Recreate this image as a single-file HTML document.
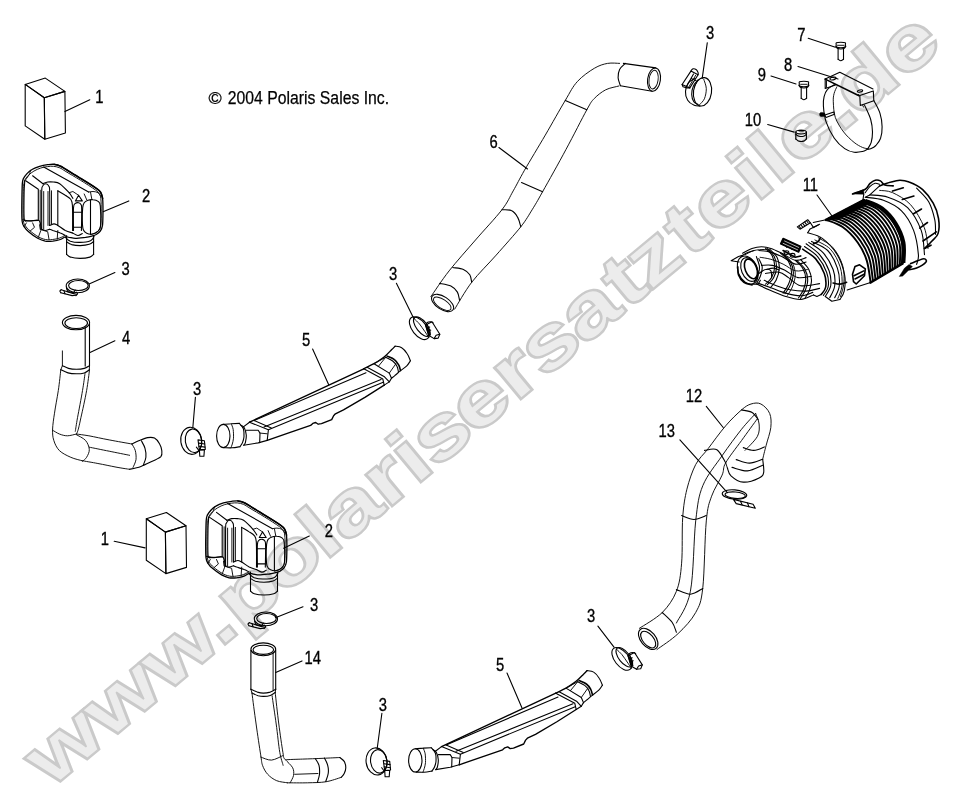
<!DOCTYPE html>
<html><head><meta charset="utf-8">
<style>
html,body{margin:0;padding:0;background:#fff;}
body{width:962px;height:795px;overflow:hidden;font-family:"Liberation Sans",sans-serif;}
svg{display:block;position:absolute;left:0;top:0;}
.wm{font-family:"Liberation Sans",sans-serif;font-weight:bold;font-size:96.2px;fill:#ececec;stroke:#cacaca;stroke-width:4.4px;stroke-linejoin:miter;paint-order:stroke fill;}
.wm2{font-family:"Liberation Sans",sans-serif;font-weight:bold;font-size:96.2px;fill:none;stroke:#cacaca;stroke-width:1.6px;stroke-linejoin:miter;}
.lb{font-family:"Liberation Sans",sans-serif;font-size:17.6px;fill:#000;stroke:#000;stroke-width:0.35px;}
.cp{font-family:"Liberation Sans",sans-serif;font-size:18.3px;fill:#000;stroke:#000;stroke-width:0.25px;}
.l{fill:none;stroke:#000;stroke-width:1.1;stroke-linecap:round;stroke-linejoin:round;}
.t{fill:none;stroke:#0a0a0a;stroke-width:0.95;stroke-linecap:round;stroke-linejoin:round;}
.w{fill:none;stroke:#000;stroke-width:1.1;stroke-linejoin:round;}
.w2{fill:none;stroke:#000;stroke-width:1.3;stroke-linejoin:round;}
.m{fill:none;stroke:#000;stroke-width:1.35;stroke-linecap:round;stroke-linejoin:round;}
.k{fill:none;stroke:#000;stroke-width:1.6;stroke-linecap:round;stroke-linejoin:round;}
.r4{fill:none;stroke:#000;stroke-width:4.2;stroke-linecap:butt;}
.r2{fill:none;stroke:#000;stroke-width:1.9;stroke-linecap:round;}
.r3{fill:none;stroke:#000;stroke-width:2.6;stroke-linecap:round;}
.wl{fill:none;stroke:#fff;stroke-width:0.7;}
.b{fill:#000;stroke:#000;stroke-width:0.5;stroke-linejoin:round;}
</style></head>
<body>
<svg width="962" height="795" viewBox="0 0 962 795">
<g id="wm"><text id="wmt" class="wm" transform="translate(44.5,793.9) rotate(-39.7) scale(1,0.786)" x="8.0 82.8 157.6 228.9 255.6 309.4 365.1 391.9 445.4 482.8 508.5 559.0 612.9 649.5 701.4 757.0 787.3 838.1 872.1 925.6 952.8 980.1 1034.6 1057.3 1116.0">www.polarisersatzteile.de</text><text class="wm2" transform="translate(44.5,793.9) rotate(-39.7) scale(1,0.786)" x="8.0 82.8 157.6 228.9 255.6 309.4 365.1 391.9 445.4 482.8 508.5 559.0 612.9 649.5 701.4 757.0 787.3 838.1 872.1 925.6 952.8 980.1 1034.6 1057.3 1116.0">www.polarisersatzteile.de</text></g>
<g id="parts">
<path class="w" d="M25.2 84.4 L45.3 78.1 L64.9 91.4 L44.3 97.7 Z"/>
<path class="w" d="M25.2 84.4 L44.3 97.7 L44.8 139.2 L25.2 125.9 Z"/>
<path class="w" d="M44.3 97.7 L64.9 91.4 L65.4 133 L44.8 139.2 Z"/>
<path class="l" d="M66.6 235.5 L66.6 254.4"/>
<path class="l" d="M93.6 235.5 L93.6 254.4"/>
<path class="l" d="M66.6 254.4 C67.2 254.8 68.1 256.5 70.4 257.1 C72.6 257.8 76.8 258.4 80.1 258.4 C83.3 258.4 87.6 257.8 89.9 257.1 C92.1 256.5 93 254.8 93.6 254.4"/>
<path class="l" d="M65.3 237.4 C66.2 238 67.9 240.3 70.4 241.2 C72.8 242 76.7 242.5 80.1 242.4 C83.4 242.4 88.2 241.8 90.5 240.8 C92.8 239.8 93.4 237.2 94 236.5"/>
<path class="l" d="M66.6 241.8 C67.4 242.3 69.4 243.9 71.6 244.6 C73.9 245.2 77.1 245.6 80.1 245.6 C83 245.5 87 245 89.2 244.3 C91.5 243.6 92.9 242 93.6 241.5"/>
<path class="w2" d="M22.3 183.9 C22.6 179.4 22.8 180 23.6 178.3 C24.4 176.6 25.6 175.1 27 173.6 C28.4 172.1 29.9 170.7 32 169.5 C34.1 168.2 36.9 167.1 39.6 166.3 C42.2 165.5 45.3 165 47.7 164.7 C50.1 164.4 51.9 164.1 54 164.3 C56.1 164.5 58.2 165.1 60.3 166.1 C62.4 167 63.2 167.8 66.6 169.8 C70 171.9 75.4 175.1 80.4 178.3 C85.5 181.4 93.4 186.3 96.8 188.7 C100.2 191.1 99.9 191.1 100.8 192.7 C101.8 194.4 102.2 195.3 102.6 198.4 C102.9 201.5 103 207.1 103 211.6 C102.9 216.1 102.9 222.2 102.5 225.4 C102 228.7 101.4 229.6 100.3 231.1 C99.3 232.6 97.6 233.7 96.2 234.5 C94.7 235.3 93.5 235.6 91.8 236.1 C90 236.6 88.2 237 85.5 237.4 C82.7 237.7 78.1 238.3 75.4 238.3 C72.7 238.3 70.8 237.6 69.1 237.4 C67.4 237.1 66.8 236.4 65.3 236.8 C63.9 237.1 62.4 238.8 60.3 239.5 C58.2 240.3 55.3 240.9 52.8 241.2 C50.3 241.4 47.7 241.6 45.2 241.2 C42.7 240.7 40.4 239.8 37.7 238.3 C34.9 236.7 31.1 233.9 28.9 232 C26.6 230.1 25.2 228.5 24.1 226.7 C23 224.9 22.5 224.6 22.1 221 C21.7 217.5 21.8 211.5 21.8 205.3 C21.9 199.1 22 188.4 22.3 183.9 Z"/>
<path class="k" d="M54 164.3 C55.1 164.6 58.2 165.1 60.3 166.1 C62.4 167 63.2 167.8 66.6 169.8 C70 171.9 75.4 175.1 80.4 178.3 C85.5 181.4 93.4 186.3 96.8 188.7 C100.2 191.1 99.9 191.1 100.8 192.7 C101.8 194.4 102.3 197.5 102.6 198.4"/>
<path class="t" d="M23.8 184.6 C24 183.7 24.3 181.1 25.1 179.5 C25.9 177.9 27.4 176.3 28.9 174.9 C30.3 173.5 31.9 172.3 33.9 171.1 C35.9 169.9 38.5 168.7 40.8 168 C43.1 167.2 45.6 166.8 47.7 166.6 C49.8 166.3 51.4 166.1 53.4 166.3 C55.4 166.5 57.6 166.9 59.7 167.8 C61.8 168.7 62.5 169.5 66 171.6 C69.4 173.7 75.5 177.1 80.4 180.2 C85.4 183.2 92.4 187.8 95.5 190 C98.6 192.2 98.2 192 99.1 193.4 C99.9 194.8 100.5 195.4 100.8 198.4 C101.2 201.4 101.2 207.2 101.2 211.6 C101.2 216 101.2 221.7 100.8 224.8 C100.4 227.9 99.8 228.8 98.8 230.2 C97.8 231.6 96.3 232.5 94.9 233.2 C93.5 234 91.2 234.3 90.5 234.5"/>
<path class="t" d="M23.3 185.2 C23.3 188.5 23.1 199.4 23.1 205.3 C23.1 211.2 23 217 23.3 220.4 C23.7 223.8 24.3 224 25.3 225.7 C26.4 227.4 27.7 228.9 29.9 230.7 C32 232.6 35.7 235.3 38.3 236.8 C40.9 238.2 43.1 239.1 45.5 239.5 C47.8 240 50.1 239.8 52.5 239.5 C54.9 239.3 57.7 238.7 59.7 238 C61.7 237.3 63.9 235.9 64.7 235.5"/>
<path class="l" d="M43.7 166.9 L88.6 192.1"/>
<path class="l" d="M32.6 175.8 L43 183.7"/>
<path class="t" d="M30.8 170.1 C30.4 170.9 29.9 173.3 28.9 175.1 C27.9 176.9 25.5 179.8 24.8 180.8"/>
<path class="l" d="M43 183.7 C43.8 183.4 46 182.3 47.7 182 C49.5 181.8 51.4 181.8 53.4 182 C55.4 182.3 57.1 181.9 59.7 183.7 C62.3 185.5 66.9 190.3 69.1 192.7 C71.3 195.2 72.3 197.5 72.9 198.4"/>
<path class="t" d="M88.6 192.1 C89.4 192 91.4 191.4 93 191.5 C94.6 191.6 96.8 191.9 98.1 192.7 C99.4 193.6 100.4 195.9 100.8 196.5"/>
<path class="t" d="M84.2 194 L86.7 199.7"/>
<path class="t" d="M90.5 192.1 L91.8 199"/>
<path class="t" d="M69.1 192.7 L72.9 191.5 L78.6 195.3"/>
<path class="l" d="M78.6 195.3 L75.4 200.9 L82.3 200.9 L78.6 195.3"/>
<path class="l" d="M24.8 180.8 C24.7 182.8 24.2 186.6 24.1 192.7 C24 198.9 23.8 213.2 24.1 217.9 C24.4 222.6 25.5 220.5 25.7 221"/>
<path class="l" d="M25.7 180.8 L38.3 189.2 L38.3 220.4 L25.7 221"/>
<path class="t" d="M40.2 190.2 L40.2 229.2"/>
<path class="l" d="M41.7 229.2 C41.7 223.1 41.6 199.9 41.7 192.7 C41.8 185.6 41.8 188 42.5 186.4 C43.1 184.9 44.8 183.7 45.8 183.7 C46.9 183.7 48.3 184.9 49 186.4 C49.6 188 49.6 186.2 49.7 192.7 C49.9 199.2 49.7 220 49.7 225.4"/>
<path class="t" d="M43.7 229.2 L43.7 191.5"/>
<path class="t" d="M48 225.4 L48 191.5"/>
<path class="l" d="M41.7 229.2 C42.3 229.4 43.9 230.5 45.2 230.5 C46.6 230.5 49 229.4 49.7 229.2"/>
<path class="l" d="M57.8 190.8 L57.8 225.4"/>
<path class="t" d="M51.5 190.8 L51.5 224.2"/>
<path class="l" d="M57.8 190.8 C59.1 191.6 63.2 193.9 65.3 195.3 C67.4 196.6 69.2 197.3 70.4 199 C71.6 200.7 72 200.1 72.4 205.3 C72.8 210.6 72.6 226.3 72.6 230.5"/>
<path class="l" d="M49.7 225.4 C50.5 225.2 52.7 223.9 54 223.9 C55.4 223.9 55.9 224.4 57.8 225.4 C59.7 226.5 62.9 229.2 65.3 230.5 C67.8 231.7 71.4 232.6 72.6 233"/>
<path class="l" d="M73.5 230.5 C73.5 226.7 73.2 212.3 73.5 207.8 C73.8 203.3 74.6 204.3 75.4 203.4 C76.2 202.6 77.6 202.6 78.6 202.8 C79.5 203 80.5 203.6 81.1 204.7 C81.6 205.7 81.6 204.8 81.7 209.1 C81.8 213.4 81.5 226.9 81.4 230.5"/>
<path class="l" d="M73.5 212.2 L81.4 212.2"/>
<path class="l" d="M73.5 227.3 L81.4 227.3"/>
<path class="l" d="M82.7 207.8 C83 204.9 83.3 204.1 84.2 202.8 C85.1 201.5 86.5 200.8 88 200.3 C89.5 199.8 91.3 199.5 93 199.7 C94.7 199.8 96.8 200.2 98.1 201.3 C99.3 202.3 99.9 201.9 100.3 205.9 C100.7 210 100.9 221.2 100.6 225.4 C100.2 229.6 99.4 229.7 98.1 231.1 C96.7 232.5 94.3 233.6 92.4 234 C90.5 234.4 88.3 234 86.7 233.2 C85.2 232.5 83.9 231.6 83.2 229.5 C82.5 227.3 82.4 224 82.3 220.4 C82.2 216.8 82.4 210.8 82.7 207.8 Z"/>
<path class="l" d="M90.5 200 L90.5 233.7"/>
<path class="l" d="M22.6 219.8 C23.8 220 27.4 220.9 30.1 221 C32.9 221.1 37 219 38.9 220.4 C40.8 221.8 41 227.7 41.4 229.2"/>
<path class="t" d="M26.4 222.9 L24.1 226.7"/>
<path class="t" d="M32.6 222.9 L34.5 227.3 L30.1 231.1"/>
<path class="t" d="M39.6 224.8 L40.8 230.5 L38.3 237.4"/>
<path class="t" d="M41.4 229.8 L47.7 231.7 L49 239.3"/>
<path class="l" d="M49.7 229.2 C50.3 229.4 51 229.8 52.8 230.5 C54.5 231.1 58.2 232.1 60.3 233 C62.4 233.8 64.5 235.1 65.3 235.5"/>
<path class="t" d="M57.8 230.5 L57.2 239.3"/>
<path class="l" d="M72.6 233 C73.5 233.4 76.3 235.4 77.9 235.5 C79.5 235.6 81.6 233.9 82.3 233.6"/>
<ellipse class="l" cx="77.8" cy="285.9" rx="11.6" ry="6.9"/>
<ellipse class="l" cx="78.4" cy="285.5" rx="9.8" ry="5"/>
<path class="l" d="M61.2 289.7 L72.8 293.4 L76.5 294.3"/>
<path class="l" d="M61.2 289.7 C61 289.9 60 290.4 59.9 290.9 C59.9 291.5 60.7 292.5 60.8 292.8"/>
<path class="l" d="M60.8 292.8 L72.1 295.6 L75.9 295.3"/>
<path class="l" d="M76.5 292.2 C76.7 292.5 77.7 293.3 77.5 293.8 C77.4 294.4 76.2 295.3 75.9 295.6"/>
<path class="l" d="M66.5 288.4 L67.7 291.6 L73.4 292.8 L75.3 290.1"/>
<path class="l" d="M64 290.9 L65 293.8"/>
<ellipse class="l" cx="76" cy="322.6" rx="13.6" ry="7.2"/>
<ellipse class="l" cx="76.2" cy="323.1" rx="11.3" ry="5.4"/>
<path class="t" d="M62.4 350.9 L62.4 365.7"/>
<path class="l" d="M89.5 323.8 L89.5 365.7"/>
<path class="l" d="M85.2 327.6 L85.2 366.1"/>
<path class="l" d="M62.4 365.7 C63.4 366.1 66.1 367.8 68.5 368.4 C70.8 369 73.8 369.3 76.4 369.3 C79.1 369.3 82.1 369 84.3 368.4 C86.5 367.8 88.7 366.1 89.5 365.7"/>
<path class="l" d="M60.8 369.7 C62 370.3 65.4 372.2 68 372.9 C70.6 373.6 73.7 373.8 76.4 373.8 C79.1 373.8 82.1 373.6 84.3 372.9 C86.5 372.2 88.7 370.3 89.5 369.7"/>
<path class="t" d="M62.4 365.7 L60.8 369.7"/>
<path class="t" d="M89.5 365.7 L89.3 369.7"/>
<path class="t" d="M60.8 369.7 C60.4 373.2 59.4 383.3 58.3 390.6 C57.2 397.8 55.4 406.8 54.5 413.2 C53.5 419.6 52.8 424.5 52.6 429 C52.5 433.6 52.6 436.8 53.8 440.4 C54.9 444 56.6 447.7 59.4 450.6 C62.3 453.4 67 455.6 70.8 457.3 C74.5 459 80.2 460.2 82.1 460.7"/>
<path class="t" d="M89.5 369.7 C89.1 373.2 88 382.6 86.6 390.6 C85.2 398.6 82.4 411.1 80.9 417.7 C79.5 424.3 78.8 427.5 78 430.2 C77.2 432.9 76.7 433.4 76.4 434"/>
<path class="t" d="M85 373.6 C84.6 376.4 83.8 383.2 82.5 390.6 C81.3 397.9 78.8 410.9 77.5 417.7 C76.3 424.5 75.7 429 75.3 431.3"/>
<path class="t" d="M76.4 434 C78.5 434.3 83.4 434.9 88.9 435.8 C94.3 436.8 102.1 438.6 109.2 439.9 C116.4 441.3 128.1 443.3 131.9 444"/>
<path class="t" d="M82.1 460.7 C84.7 461.2 92.3 462.4 97.9 463.5 C103.6 464.5 110.7 466.1 116 467.1 C121.3 468.1 127.4 469 129.6 469.3"/>
<path class="t" d="M89.3 447.2 C92.6 447.8 102.5 449.9 109.2 451.2 C116 452.6 126.2 454.6 129.6 455.3"/>
<path class="t" d="M52.6 430.2 C53.8 430.8 57 433.1 59.4 434 C61.9 435 64.5 435.8 67.4 435.8 C70.2 435.8 74.9 434.3 76.4 434"/>
<path class="t" d="M76.4 434.7 C77.9 435.7 83.3 437.9 85.5 440.4 C87.6 442.8 89.1 446.6 89.3 449.4 C89.5 452.3 87.7 455.4 86.6 457.3 C85.5 459.3 83.2 460.6 82.5 461.2"/>
<path class="l" d="M131.9 444 C133 443.5 136 441.9 138.7 440.8 C141.3 439.8 145.1 438.1 147.7 437.6 C150.4 437.2 152.6 437.1 154.5 438.1 C156.5 439.1 158.3 441.7 159.5 443.8 C160.7 445.8 161.5 448.4 161.8 450.6 C162 452.7 162.4 454.9 160.9 456.7 C159.3 458.4 155.6 459.6 152.3 461.2 C148.9 462.8 144.7 465 140.9 466.4 C137.2 467.8 131.5 468.9 129.6 469.3"/>
<path class="t" d="M131.9 444 C132.4 445.1 134.6 448 135.3 450.6 C136 453.2 136.3 456.8 136 459.6 C135.6 462.4 133.5 466.2 133 467.5"/>
<path class="l" d="M141.4 440.8 C142 442.1 144.3 445.5 145 448.3 C145.8 451 146.2 454.5 145.9 457.3 C145.6 460.2 143.7 463.9 143.2 465.3"/>
<ellipse class="l" cx="191.2" cy="440.8" rx="10.4" ry="13.6" transform="rotate(-8 191.2 440.8)"/>
<ellipse class="l" cx="193.5" cy="440.8" rx="8.2" ry="11.8" transform="rotate(-8 193.5 440.8)"/>
<path class="w" d="M198 439.9 L204.4 440.8 L205.3 449.4 L199.4 449.9 Z"/>
<path class="w" d="M199.4 449.9 L199.8 456.2 L203.9 456.2 L204.4 449.9 Z"/>
<path class="l" d="M198.7 443.1 L204.8 444"/>
<path class="l" d="M198.9 446.2 L205 447.1"/>
<path class="l" d="M196.4 447.1 L199.4 451.2"/>
<path class="w" d="M146.3 518.8 L166.4 512.5 L186 525.8 L165.4 532.1 Z"/>
<path class="w" d="M146.3 518.8 L165.4 532.1 L165.9 573.6 L146.3 560.3 Z"/>
<path class="w" d="M165.4 532.1 L186 525.8 L186.5 567.4 L165.9 573.6 Z"/>
<path class="l" d="M250.5 572.1 L250.5 591"/>
<path class="l" d="M277.5 572.1 L277.5 591"/>
<path class="l" d="M250.5 591 C251.1 591.4 252 593.1 254.3 593.7 C256.5 594.4 260.7 595 264 595 C267.2 595 271.5 594.4 273.8 593.7 C276 593.1 276.9 591.4 277.5 591"/>
<path class="l" d="M249.2 574 C250.1 574.6 251.8 576.9 254.3 577.8 C256.7 578.6 260.6 579.1 264 579 C267.3 579 272.1 578.4 274.4 577.4 C276.7 576.4 277.3 573.8 277.9 573.1"/>
<path class="l" d="M250.5 578.4 C251.3 578.9 253.3 580.5 255.5 581.2 C257.8 581.8 261 582.2 264 582.2 C266.9 582.1 270.9 581.6 273.1 580.9 C275.4 580.2 276.8 578.6 277.5 578.1"/>
<path class="w2" d="M206.2 520.5 C206.5 516 206.7 516.6 207.5 514.9 C208.3 513.2 209.5 511.7 210.9 510.2 C212.3 508.7 213.8 507.3 215.9 506.1 C218 504.8 220.8 503.7 223.5 502.9 C226.1 502.1 229.2 501.6 231.6 501.3 C234 501 235.8 500.7 237.9 500.9 C240 501.1 242.1 501.7 244.2 502.7 C246.3 503.6 247.1 504.4 250.5 506.4 C253.9 508.5 259.3 511.7 264.3 514.9 C269.4 518 277.3 522.9 280.7 525.3 C284.1 527.7 283.8 527.7 284.7 529.3 C285.7 531 286.1 531.9 286.5 535 C286.8 538.1 286.9 543.7 286.9 548.2 C286.8 552.7 286.8 558.8 286.4 562 C285.9 565.3 285.3 566.2 284.2 567.7 C283.2 569.2 281.5 570.3 280.1 571.1 C278.6 571.9 277.4 572.2 275.7 572.7 C273.9 573.2 272.1 573.6 269.4 574 C266.6 574.3 262 574.9 259.3 574.9 C256.6 574.9 254.7 574.2 253 574 C251.3 573.7 250.7 573 249.2 573.4 C247.8 573.7 246.3 575.4 244.2 576.1 C242.1 576.9 239.2 577.5 236.7 577.8 C234.2 578 231.6 578.2 229.1 577.8 C226.6 577.3 224.3 576.4 221.6 574.9 C218.8 573.3 215 570.5 212.8 568.6 C210.5 566.7 209.1 565.1 208 563.3 C206.9 561.5 206.4 561.2 206 557.6 C205.6 554.1 205.7 548.1 205.7 541.9 C205.8 535.7 205.9 525 206.2 520.5 Z"/>
<path class="k" d="M237.9 500.9 C239 501.2 242.1 501.7 244.2 502.7 C246.3 503.6 247.1 504.4 250.5 506.4 C253.9 508.5 259.3 511.7 264.3 514.9 C269.4 518 277.3 522.9 280.7 525.3 C284.1 527.7 283.8 527.7 284.7 529.3 C285.7 531 286.2 534.1 286.5 535"/>
<path class="t" d="M207.7 521.2 C207.9 520.3 208.2 517.7 209 516.1 C209.8 514.5 211.3 512.9 212.8 511.5 C214.2 510.1 215.8 508.9 217.8 507.7 C219.8 506.5 222.4 505.3 224.7 504.6 C227 503.8 229.5 503.4 231.6 503.2 C233.7 502.9 235.3 502.7 237.3 502.9 C239.3 503.1 241.5 503.5 243.6 504.4 C245.7 505.3 246.4 506.1 249.9 508.2 C253.3 510.3 259.4 513.7 264.3 516.8 C269.3 519.8 276.3 524.4 279.4 526.6 C282.5 528.8 282.1 528.6 283 530 C283.8 531.4 284.4 532 284.7 535 C285.1 538 285.1 543.8 285.1 548.2 C285.1 552.6 285.1 558.3 284.7 561.4 C284.3 564.5 283.7 565.4 282.7 566.8 C281.7 568.2 280.2 569.1 278.8 569.8 C277.4 570.6 275.1 570.9 274.4 571.1"/>
<path class="t" d="M207.2 521.8 C207.2 525.1 207 536 207 541.9 C207 547.8 206.9 553.6 207.2 557 C207.6 560.4 208.2 560.6 209.2 562.3 C210.3 564 211.6 565.5 213.8 567.3 C215.9 569.2 219.6 571.9 222.2 573.4 C224.8 574.8 227 575.7 229.4 576.1 C231.7 576.6 234 576.4 236.4 576.1 C238.8 575.9 241.6 575.3 243.6 574.6 C245.6 573.9 247.8 572.5 248.6 572.1"/>
<path class="l" d="M227.6 503.5 L272.5 528.7"/>
<path class="l" d="M216.5 512.4 L226.9 520.3"/>
<path class="t" d="M214.7 506.7 C214.3 507.5 213.8 509.9 212.8 511.7 C211.8 513.5 209.4 516.4 208.7 517.4"/>
<path class="l" d="M226.9 520.3 C227.7 520 229.9 518.9 231.6 518.6 C233.4 518.4 235.3 518.4 237.3 518.6 C239.3 518.9 241 518.5 243.6 520.3 C246.2 522.1 250.8 526.9 253 529.3 C255.2 531.8 256.2 534.1 256.8 535"/>
<path class="t" d="M272.5 528.7 C273.3 528.6 275.3 528 276.9 528.1 C278.5 528.2 280.7 528.5 282 529.3 C283.3 530.2 284.3 532.5 284.7 533.1"/>
<path class="t" d="M268.1 530.6 L270.6 536.3"/>
<path class="t" d="M274.4 528.7 L275.7 535.6"/>
<path class="t" d="M253 529.3 L256.8 528.1 L262.5 531.9"/>
<path class="l" d="M262.5 531.9 L259.3 537.5 L266.2 537.5 L262.5 531.9"/>
<path class="l" d="M208.7 517.4 C208.6 519.4 208.1 523.2 208 529.3 C207.9 535.5 207.7 549.8 208 554.5 C208.3 559.2 209.4 557.1 209.6 557.6"/>
<path class="l" d="M209.6 517.4 L222.2 525.8 L222.2 557 L209.6 557.6"/>
<path class="t" d="M224.1 526.8 L224.1 565.8"/>
<path class="l" d="M225.6 565.8 C225.6 559.7 225.5 536.5 225.6 529.3 C225.7 522.2 225.7 524.6 226.4 523 C227 521.5 228.7 520.3 229.7 520.3 C230.8 520.3 232.2 521.5 232.9 523 C233.5 524.6 233.5 522.8 233.6 529.3 C233.8 535.8 233.6 556.6 233.6 562"/>
<path class="t" d="M227.6 565.8 L227.6 528.1"/>
<path class="t" d="M231.9 562 L231.9 528.1"/>
<path class="l" d="M225.6 565.8 C226.2 566 227.8 567.1 229.1 567.1 C230.5 567.1 232.9 566 233.6 565.8"/>
<path class="l" d="M241.7 527.4 L241.7 562"/>
<path class="t" d="M235.4 527.4 L235.4 560.8"/>
<path class="l" d="M241.7 527.4 C243 528.2 247.1 530.5 249.2 531.9 C251.3 533.2 253.1 533.9 254.3 535.6 C255.5 537.3 255.9 536.7 256.3 541.9 C256.7 547.2 256.5 562.9 256.5 567.1"/>
<path class="l" d="M233.6 562 C234.4 561.8 236.6 560.5 237.9 560.5 C239.3 560.5 239.8 561 241.7 562 C243.6 563.1 246.8 565.8 249.2 567.1 C251.7 568.3 255.3 569.2 256.5 569.6"/>
<path class="l" d="M257.4 567.1 C257.4 563.3 257.1 548.9 257.4 544.4 C257.7 539.9 258.5 540.9 259.3 540 C260.1 539.2 261.5 539.2 262.5 539.4 C263.4 539.6 264.4 540.2 265 541.3 C265.5 542.3 265.5 541.4 265.6 545.7 C265.7 550 265.4 563.5 265.3 567.1"/>
<path class="l" d="M257.4 548.8 L265.3 548.8"/>
<path class="l" d="M257.4 563.9 L265.3 563.9"/>
<path class="l" d="M266.6 544.4 C266.9 541.5 267.2 540.7 268.1 539.4 C269 538.1 270.4 537.4 271.9 536.9 C273.4 536.4 275.2 536.1 276.9 536.3 C278.6 536.4 280.7 536.8 282 537.9 C283.2 538.9 283.8 538.5 284.2 542.5 C284.6 546.6 284.8 557.8 284.5 562 C284.1 566.2 283.3 566.3 282 567.7 C280.6 569.1 278.2 570.2 276.3 570.6 C274.4 571 272.2 570.6 270.6 569.8 C269.1 569.1 267.8 568.2 267.1 566.1 C266.4 563.9 266.3 560.6 266.2 557 C266.1 553.4 266.3 547.4 266.6 544.4 Z"/>
<path class="l" d="M274.4 536.6 L274.4 570.3"/>
<path class="l" d="M206.5 556.4 C207.7 556.6 211.3 557.5 214 557.6 C216.8 557.7 220.9 555.6 222.8 557 C224.7 558.4 224.9 564.3 225.3 565.8"/>
<path class="t" d="M210.3 559.5 L208 563.3"/>
<path class="t" d="M216.5 559.5 L218.4 563.9 L214 567.7"/>
<path class="t" d="M223.5 561.4 L224.7 567.1 L222.2 574"/>
<path class="t" d="M225.3 566.4 L231.6 568.3 L232.9 575.9"/>
<path class="l" d="M233.6 565.8 C234.2 566 234.9 566.4 236.7 567.1 C238.4 567.7 242.1 568.7 244.2 569.6 C246.3 570.4 248.4 571.7 249.2 572.1"/>
<path class="t" d="M241.7 567.1 L241.1 575.9"/>
<path class="l" d="M256.5 569.6 C257.4 570 260.2 572 261.8 572.1 C263.4 572.2 265.5 570.5 266.2 570.2"/>
<ellipse class="l" cx="265.9" cy="618.9" rx="11.6" ry="6.9"/>
<ellipse class="l" cx="266.5" cy="618.5" rx="9.8" ry="5"/>
<path class="l" d="M249.3 622.7 L260.9 626.4 L264.6 627.3"/>
<path class="l" d="M249.3 622.7 C249.1 622.9 248.1 623.4 248 623.9 C248 624.5 248.8 625.5 248.9 625.8"/>
<path class="l" d="M248.9 625.8 L260.2 628.6 L264 628.3"/>
<path class="l" d="M264.6 625.2 C264.8 625.5 265.8 626.3 265.6 626.8 C265.5 627.4 264.3 628.3 264 628.6"/>
<path class="l" d="M254.6 621.4 L255.8 624.6 L261.5 625.8 L263.4 623.1"/>
<path class="l" d="M252.1 623.9 L253.1 626.8"/>
<ellipse class="l" cx="376.5" cy="761.4" rx="10.4" ry="13.6" transform="rotate(-8 376.5 761.4)"/>
<ellipse class="l" cx="378.8" cy="761.4" rx="8.2" ry="11.8" transform="rotate(-8 378.8 761.4)"/>
<path class="w" d="M383.3 760.5 L389.7 761.4 L390.6 770 L384.7 770.5 Z"/>
<path class="w" d="M384.7 770.5 L385.1 776.8 L389.2 776.8 L389.7 770.5 Z"/>
<path class="l" d="M384 763.7 L390.1 764.6"/>
<path class="l" d="M384.2 766.8 L390.3 767.7"/>
<path class="l" d="M381.7 767.7 L384.7 771.8"/>
<ellipse class="l" cx="223.3" cy="436" rx="6.7" ry="11.6"/>
<path class="l" d="M223.3 424.4 C224.6 424.3 228.6 423.8 231.3 423.7 C234 423.5 238 423.4 239.3 423.4"/>
<path class="l" d="M224 447.7 C225.3 447.7 229.4 448 232 447.8 C234.7 447.7 238.7 446.9 240 446.7"/>
<path class="l" d="M239.3 423.4 C240 424.3 242.6 426.5 243.4 428.8 C244.1 431 244.1 434.5 244 436.8 C243.8 439.1 243.2 440.9 242.5 442.6 C241.8 444.2 240.4 446 240 446.7"/>
<path class="t" d="M231.3 423.8 C231.6 424.8 232.8 427.1 233.2 429.5 C233.5 431.9 233.6 435.8 233.5 438.2 C233.3 440.6 232.7 442.4 232.3 444 C231.9 445.6 231.1 447.2 230.9 447.8"/>
<path class="l" d="M240.8 425.1 C241.4 425.6 243.5 426.3 244.4 428 C245.3 429.7 246.1 432.9 246.3 435.3 C246.5 437.7 245.8 440.9 245.4 442.6 C245 444.2 244 444.8 243.7 445.2"/>
<path class="l" d="M243.4 426.9 L249.5 422.2"/>
<path class="l" d="M243.7 445.2 L258.2 442.9 L267.2 440.4"/>
<path class="l" d="M246.3 430.2 L258.2 430.2 L260 433.1 L259.7 442.6"/>
<path class="t" d="M260 433.1 L267.2 433.8"/>
<path class="l" d="M249.5 422.2 L268.4 429.8 L267.2 440.4"/>
<path class="l" d="M254.1 420.5 L271.3 428"/>
<path class="m" d="M249.5 422.2 L363.8 368.8"/>
<path class="l" d="M254.1 420.5 L366 372.7"/>
<path class="l" d="M264 426.9 L381 379.4"/>
<path class="l" d="M268.4 429.8 L383.2 382.3"/>
<path class="m" d="M267.2 440.4 L290.2 432.4 L310.6 425.4 L312.8 423.4 L315.7 422.5 L318.2 424.2 L321.5 423.7 L331.7 419.6 L333.6 415.7 L335.4 413.8 L343.5 409.9 L365.3 397.1 L384.2 385.1"/>
<path class="m" d="M363.8 368.8 C365.5 367.9 371.1 365.3 374 363.7 C376.9 362 379.3 360.5 381.3 359 C383.4 357.5 384.7 356.5 386.4 354.9 C388.1 353.4 390 351.3 391.5 349.8 C393 348.4 394.5 346.8 395.1 346.2"/>
<path class="l" d="M395.1 346.2 C396.2 346.4 399.7 346.4 401.7 347.7 C403.7 348.9 405.8 351.6 407.2 353.8 C408.7 355.9 409.9 359.6 410.4 360.8"/>
<path class="l" d="M410.4 360.8 C409.8 361.6 408.5 364.1 406.8 365.8 C405.1 367.5 402.2 369.4 400.2 370.9 C398.3 372.5 396.6 374.1 395.1 375.3 C393.7 376.5 392.1 377.7 391.5 378.2"/>
<path class="k" d="M387.1 356.1 C388.3 356.7 392.5 358.1 394.4 359.6 C396.4 361.1 397.8 363.3 398.8 365.1 C399.8 367 400.2 369.7 400.5 370.6"/>
<path class="l" d="M385.7 357.3 C386.8 357.9 390.8 359.5 392.7 361 C394.6 362.5 396.1 364.4 397 366.3 C398 368.1 398.2 371.1 398.5 372.1"/>
<path class="l" d="M391.5 378.2 L389.3 381.9 L384.2 385.1"/>
<path class="l" d="M363.8 368.8 L382.8 378.9 L384.2 385.1"/>
<path class="l" d="M367.1 367.3 L384.5 376.8 L389.3 381.9"/>
<path class="l" d="M374 363.7 L389.3 373.1 L391.5 378.2"/>
<path class="t" d="M374 363.7 L385.7 357.3"/>
<path class="t" d="M389.3 373.1 L395.9 363.7"/>
<path class="t" d="M378.4 366.3 L385.7 357.3"/>
<ellipse class="l" cx="415.3" cy="760.4" rx="6.7" ry="11.6"/>
<path class="l" d="M415.3 748.8 C416.6 748.7 420.6 748.2 423.3 748.1 C426 747.9 430 747.8 431.3 747.8"/>
<path class="l" d="M416 772.1 C417.3 772.1 421.4 772.4 424 772.2 C426.7 772.1 430.7 771.3 432 771.1"/>
<path class="l" d="M431.3 747.8 C432 748.7 434.6 750.9 435.4 753.2 C436.1 755.4 436.1 758.9 436 761.2 C435.8 763.5 435.2 765.3 434.5 767 C433.8 768.6 432.4 770.4 432 771.1"/>
<path class="t" d="M423.3 748.2 C423.6 749.2 424.8 751.5 425.2 753.9 C425.5 756.3 425.6 760.2 425.5 762.6 C425.3 765 424.7 766.8 424.3 768.4 C423.9 770 423.1 771.6 422.9 772.2"/>
<path class="l" d="M432.8 749.5 C433.4 750 435.5 750.7 436.4 752.4 C437.3 754.1 438.1 757.3 438.3 759.7 C438.5 762.1 437.8 765.3 437.4 767 C437 768.6 436 769.2 435.7 769.6"/>
<path class="l" d="M435.4 751.3 L441.5 746.6"/>
<path class="l" d="M435.7 769.6 L450.2 767.3 L459.2 764.8"/>
<path class="l" d="M438.3 754.6 L450.2 754.6 L452 757.5 L451.7 767"/>
<path class="t" d="M452 757.5 L459.2 758.2"/>
<path class="l" d="M441.5 746.6 L460.4 754.2 L459.2 764.8"/>
<path class="l" d="M446.1 744.9 L463.3 752.4"/>
<path class="m" d="M441.5 746.6 L555.8 693.2"/>
<path class="l" d="M446.1 744.9 L558 697.1"/>
<path class="l" d="M456 751.3 L573 703.8"/>
<path class="l" d="M460.4 754.2 L575.2 706.7"/>
<path class="m" d="M459.2 764.8 L482.2 756.8 L502.6 749.8 L504.8 747.8 L507.7 746.9 L510.2 748.6 L513.5 748.1 L523.7 744 L525.6 740.1 L527.4 738.2 L535.5 734.3 L557.3 721.5 L576.2 709.5"/>
<path class="m" d="M555.8 693.2 C557.5 692.3 563.1 689.7 566 688.1 C568.9 686.4 571.3 684.9 573.3 683.4 C575.4 681.9 576.7 680.9 578.4 679.3 C580.1 677.8 582 675.7 583.5 674.2 C585 672.8 586.5 671.2 587.1 670.6"/>
<path class="l" d="M587.1 670.6 C588.2 670.8 591.7 670.8 593.7 672.1 C595.7 673.3 597.8 676 599.2 678.2 C600.7 680.3 601.9 684 602.4 685.2"/>
<path class="l" d="M602.4 685.2 C601.8 686 600.5 688.5 598.8 690.2 C597.1 691.9 594.2 693.8 592.2 695.3 C590.3 696.9 588.6 698.5 587.1 699.7 C585.7 700.9 584.1 702.1 583.5 702.6"/>
<path class="k" d="M579.1 680.5 C580.3 681.1 584.5 682.5 586.4 684 C588.4 685.5 589.8 687.7 590.8 689.5 C591.8 691.4 592.2 694.1 592.5 695"/>
<path class="l" d="M577.7 681.7 C578.8 682.3 582.8 683.9 584.7 685.4 C586.6 686.9 588.1 688.8 589 690.7 C590 692.5 590.2 695.5 590.5 696.5"/>
<path class="l" d="M583.5 702.6 L581.3 706.3 L576.2 709.5"/>
<path class="l" d="M555.8 693.2 L574.8 703.3 L576.2 709.5"/>
<path class="l" d="M559.1 691.7 L576.5 701.2 L581.3 706.3"/>
<path class="l" d="M566 688.1 L581.3 697.5 L583.5 702.6"/>
<path class="t" d="M566 688.1 L577.7 681.7"/>
<path class="t" d="M581.3 697.5 L587.9 688.1"/>
<path class="t" d="M570.4 690.7 L577.7 681.7"/>
<ellipse class="l" cx="419.3" cy="328.2" rx="13.3" ry="7.1" transform="rotate(52 419.3 328.2)"/>
<ellipse class="l" cx="421.8" cy="326.6" rx="11.6" ry="5.4" transform="rotate(52 421.8 326.6)"/>
<path class="t" d="M414.3 318.8 C415.2 319.7 417.8 322 419.5 324 C421.2 326.1 423.1 329.1 424.7 331.3 C426.3 333.6 428.2 336.5 428.9 337.6"/>
<path class="w" d="M425.7 325.1 L432 321.8 L439.8 334.2 L438.2 338.1 L434.1 338.6 L428.9 335.5 Z"/>
<path class="k" d="M425.7 325.1 L428.9 335.5"/>
<path class="l" d="M427.3 324.6 L430.4 335"/>
<path class="l" d="M427 328.2 L429.7 327"/>
<path class="l" d="M427.8 331.3 L430.7 330.1"/>
<path class="l" d="M434.1 338.6 L436.1 335.3 L439.8 334.2"/>
<path class="l" d="M425.7 325.1 C426 324.6 426.4 323 427.3 322.5 C428.2 321.9 430 321.7 430.9 321.8 C431.9 321.8 432.8 322.8 433.2 323"/>
<ellipse class="l" cx="621.8" cy="658.9" rx="13.3" ry="7.1" transform="rotate(52 621.8 658.9)"/>
<ellipse class="l" cx="624.3" cy="657.3" rx="11.6" ry="5.4" transform="rotate(52 624.3 657.3)"/>
<path class="t" d="M616.8 649.5 C617.7 650.4 620.3 652.7 622 654.7 C623.7 656.8 625.6 659.8 627.2 662 C628.8 664.3 630.7 667.2 631.4 668.3"/>
<path class="w" d="M628.2 655.8 L634.5 652.5 L642.3 664.9 L640.7 668.8 L636.6 669.3 L631.4 666.2 Z"/>
<path class="k" d="M628.2 655.8 L631.4 666.2"/>
<path class="l" d="M629.8 655.3 L632.9 665.7"/>
<path class="l" d="M629.5 658.9 L632.2 657.7"/>
<path class="l" d="M630.3 662 L633.2 660.8"/>
<path class="l" d="M636.6 669.3 L638.6 666 L642.3 664.9"/>
<path class="l" d="M628.2 655.8 C628.5 655.3 628.9 653.7 629.8 653.2 C630.7 652.6 632.5 652.4 633.4 652.5 C634.4 652.5 635.3 653.5 635.7 653.7"/>
<ellipse class="l" cx="654" cy="79.6" rx="6.4" ry="11.7" transform="rotate(8 654 79.6)"/>
<ellipse class="t" cx="653.6" cy="79.6" rx="4.5" ry="9.4" transform="rotate(8 653.6 79.6)"/>
<path class="l" d="M623.4 63.4 L655.8 67.9"/>
<path class="l" d="M620.4 85.7 L652.1 91.3"/>
<path class="l" d="M625.3 63.4 C624.3 64.4 620.8 67 619.6 69.4 C618.4 71.8 618 75 618.1 77.7 C618.2 80.4 620 84.3 620.4 85.7"/>
<path class="t" d="M619.6 63.4 C617.6 63.4 611.8 62.6 607.5 63.4 C603.3 64.2 599.4 65.3 594.3 68.3 C589.3 71.3 582.2 76.2 577.4 81.5 C572.5 86.9 570.6 91.4 565.3 100.4 C559.9 109.3 552.1 123.5 545.3 135.1 C538.5 146.7 529.9 160.9 524.5 170.2 C519.2 179.5 517 184.3 513.2 190.9 C509.4 197.5 508.2 201.6 501.9 209.8 C495.6 218 484.3 229.8 475.5 240 C466.7 250.2 456.5 261.5 449.1 270.9 C441.6 280.4 434 292.3 430.9 296.6"/>
<path class="t" d="M618.9 86 C616.7 86.7 609.7 87.7 605.7 89.8 C601.6 91.9 597.5 95.2 594.3 98.5 C591.2 101.8 591.5 101.3 586.8 109.8 C582.1 118.3 573.4 135.8 566 149.4 C558.7 163.1 548.3 181.6 542.6 191.7 C537 201.8 535.7 204 532.1 209.8 C528.4 215.7 526.7 219.2 520.8 226.8 C514.8 234.3 504.4 245.8 496.2 255.1 C488.1 264.3 478.6 273.3 471.7 282.3 C464.8 291.3 457.5 304.6 454.7 309.1"/>
<path class="l" d="M565.3 100.4 L586.8 109.8"/>
<path class="l" d="M521.5 182.6 L542.6 191.7"/>
<path class="l" d="M501.9 209.8 C503.5 209.9 508.7 209.3 511.3 210.6 C514 211.8 516.2 214.7 517.7 217.4 C519.3 220.1 520.3 225.2 520.8 226.8"/>
<path class="l" d="M452.8 267.5 C454.6 267.9 460.6 268.2 463.4 269.4 C466.2 270.6 468.4 272.6 469.8 274.7 C471.2 276.9 471.4 281 471.7 282.3"/>
<path class="l" d="M439.6 283.4 C441.5 283.8 448 284.6 450.9 286 C453.9 287.5 455.9 289.7 457.4 292.1 C458.8 294.5 459.2 299 459.6 300.4"/>
<ellipse class="l" cx="442.6" cy="303" rx="12.5" ry="6.4" transform="rotate(33 442.6 303)"/>
<ellipse class="t" cx="442.3" cy="303.8" rx="10.2" ry="4.5" transform="rotate(33 442.3 303.8)"/>
<ellipse class="l" cx="702.5" cy="91.8" rx="9" ry="14.3" transform="rotate(8 702.5 91.8)"/>
<path class="l" d="M694.9 78.4 C693.8 79.1 690 80.6 688.4 82.8 C686.8 85 685.6 88.6 685.5 91.5 C685.3 94.4 686.2 97.9 687.7 100.2 C689.1 102.5 692.1 104.4 694.2 105.3 C696.3 106.3 699.1 105.9 700 106.1"/>
<path class="l" d="M698.1 79.9 C697.4 80.8 694.5 83.3 693.5 85.7 C692.4 88.1 691.7 91.7 691.7 94.4 C691.8 97.1 692.7 100 693.8 101.7 C694.8 103.4 697.4 104.1 698.1 104.6"/>
<path class="t" d="M703.7 79.1 C704.1 80.7 706.2 85.3 706.3 88.6 C706.4 91.9 705.5 96.1 704.4 98.8 C703.3 101.4 700.4 103.6 699.6 104.6"/>
<path class="w" d="M682.1 84.5 L690.9 71.1 L698.1 74.8 L689.8 87.9 Z"/>
<path class="l" d="M690.9 71.1 C691.2 70.8 691.8 69.2 692.7 68.9 C693.7 68.7 695.5 69.1 696.4 69.7 C697.3 70.3 697.8 71.7 698.1 72.6 C698.4 73.4 698.1 74.4 698.1 74.8"/>
<path class="l" d="M682.1 84.5 L683 86.8 L686.9 87.9 L689.8 87.9"/>
<path class="l" d="M693.5 74 L686.5 86.4"/>
<path class="t" d="M695.7 75.2 L688.8 87.1"/>
<path class="t" d="M691.3 78.4 L697.1 81.3 L694.9 85.7"/>
<path class="w" d="M836.2 44.6 C836.2 43.9 835.6 43.2 836.4 42.8 C837.2 42.4 839.3 42.2 840.8 42.2 C842.3 42.2 844.4 42.4 845.2 42.8 C846 43.2 845.4 43.9 845.4 44.6 C845.4 45.3 845.8 46.5 845 47 C844.2 47.5 842.2 47.8 840.8 47.8 C839.4 47.8 837.4 47.5 836.6 47 C835.8 46.5 836.2 45.3 836.2 44.6 Z"/>
<path class="l" d="M835.8 46.3 C836.1 46.7 837 48.1 837.8 48.6 C838.6 49 839.8 49 840.8 49 C841.8 49 843 49 843.8 48.6 C844.6 48.1 845.5 46.7 845.8 46.3"/>
<path class="l" d="M838.1 48.8 L838.1 59.3"/>
<path class="l" d="M843.5 48.8 L843.5 59.3"/>
<path class="l" d="M838.1 59.3 C838.5 59.5 839.9 60.8 840.8 60.8 C841.7 60.8 843 59.5 843.5 59.3"/>
<path class="t" d="M837.5 45.3 L844.1 45.3"/>
<path class="w" d="M799.3 83.6 C799.3 82.9 798.7 82.2 799.5 81.8 C800.3 81.4 802.4 81.2 803.9 81.2 C805.4 81.2 807.5 81.4 808.3 81.8 C809.1 82.2 808.5 82.9 808.5 83.6 C808.5 84.3 808.9 85.5 808.1 86 C807.3 86.5 805.3 86.8 803.9 86.8 C802.5 86.8 800.5 86.5 799.7 86 C798.9 85.5 799.3 84.3 799.3 83.6 Z"/>
<path class="l" d="M798.9 85.3 C799.2 85.7 800.1 87.1 800.9 87.6 C801.7 88 802.9 88 803.9 88 C804.9 88 806.1 88 806.9 87.6 C807.7 87.1 808.6 85.7 808.9 85.3"/>
<path class="l" d="M801.2 87.8 L801.2 98.3"/>
<path class="l" d="M806.6 87.8 L806.6 98.3"/>
<path class="l" d="M801.2 98.3 C801.6 98.5 803 99.8 803.9 99.8 C804.8 99.8 806.1 98.5 806.6 98.3"/>
<path class="t" d="M800.6 84.3 L807.2 84.3"/>
<path class="l" d="M834.3 84.7 C833.2 85.5 829.2 87.4 827.5 89.4 C825.8 91.3 824.8 93.9 824.1 96.6 C823.4 99.4 823.1 101.8 823.4 106 C823.7 110.1 824.2 116.2 826 121.6 C827.8 127 831.2 133.7 834.3 138.2 C837.4 142.7 841.4 146.3 844.7 148.6 C848 150.9 851.1 151.8 854.1 152.2 C857 152.7 860.1 152 862.4 151.5 C864.6 151 866.7 149.5 867.6 149.1"/>
<path class="t" d="M836.9 86.8 C836.4 87.9 834.7 91 834.1 93.5 C833.5 96 833.1 97.8 833.3 101.8 C833.5 105.8 833.6 112.4 835.3 117.4 C837.1 122.4 840.5 127.8 843.7 132 C846.8 136.1 850.9 139.8 854.1 142.4 C857.2 144.9 860 146.3 862.4 147.4 C864.7 148.4 867.1 148.6 868.1 148.8"/>
<path class="l" d="M874 100.8 C875 102.9 878.7 108.9 880 113.3 C881.4 117.6 882 122.6 882.1 126.8 C882.2 130.9 881.6 135.1 880.6 138.2 C879.5 141.3 877.5 143.7 875.9 145.5 C874.2 147.3 872.1 148.2 870.7 148.8 C869.3 149.4 868.1 149.1 867.6 149.1"/>
<path class="l" d="M864.4 104.9 C865.5 107.4 869.4 115 870.7 119.5 C872 124 872.4 128.2 872.5 132 C872.5 135.8 872 139.6 871.2 142.4 C870.4 145.2 868.3 147.7 867.8 148.8"/>
<path class="b" d="M819.8 113.3 C820 112.7 820.5 112.5 821.3 112.4 C822.1 112.4 823.8 112.5 824.4 113.1 C825 113.6 825.3 115.3 824.9 115.9 C824.6 116.5 823.2 116.6 822.3 116.6 C821.5 116.6 820.4 116.4 820 115.9 C819.5 115.3 819.5 113.8 819.8 113.3 Z"/>
<path class="l" d="M824.9 115.1 L833.8 112 L834.5 114.3 L826 117.6 Z"/>
<path class="l" d="M825.2 79.1 L839.8 72.3 L873 88.9"/>
<path class="k" d="M825.2 79.1 L859 95.7"/>
<path class="l" d="M825.2 79.1 L825.2 88.4 L828.9 87.2 L836.1 84.8"/>
<path class="t" d="M826.5 80.6 L826.5 87.4"/>
<ellipse class="l" cx="833" cy="78.5" rx="3.1" ry="1.4" transform="rotate(-10 833 78.5)"/>
<ellipse class="l" cx="860" cy="91" rx="2.7" ry="1.1" transform="rotate(-12 860 91)"/>
<path class="l" d="M859.8 95.6 L873.3 90.9 L873.8 100.8 L860.3 105.5 Z"/>
<path class="l" d="M858.4 94.6 L859.8 95.6"/>
<path class="t" d="M862.4 104.7 L863.6 107.2"/>
<ellipse class="l" cx="801.1" cy="132.1" rx="5.3" ry="1.9"/>
<path class="l" d="M795.8 132.1 L795.8 138.9"/>
<path class="l" d="M806.4 132.1 L806.4 138.9"/>
<path class="l" d="M795.8 138.9 C796.4 139.2 797.6 140.8 798.9 141.1 C800.2 141.5 802.3 141.5 803.6 141.1 C804.8 140.8 805.9 139.2 806.4 138.9"/>
<path class="l" d="M795.8 134.3 C796.4 134.7 797.6 135.9 798.9 136.2 C800.2 136.5 802.3 136.5 803.6 136.2 C804.8 135.9 805.9 134.7 806.4 134.3"/>
<path class="k" d="M798.9 130.6 L803.4 130.6"/>
<path class="r2" d="M826 219.8 C828.8 221 837.4 223.3 842.6 227.1 C847.9 230.8 853.7 236.9 857.7 242.5 C861.8 248.1 864.7 253.9 866.8 260.6 C868.9 267.3 870 278.8 870.6 282.5"/>
<path class="r2" d="M828.9 218.3 C831.7 219.5 840.3 221.8 845.6 225.6 C850.8 229.4 856.5 235.4 860.5 241 C864.5 246.6 867.5 252.5 869.5 259.2 C871.6 265.9 872.4 277.4 873 281"/>
<path class="r2" d="M831.8 216.8 C834.6 218 843.2 220.3 848.5 224.1 C853.7 227.9 859.4 233.8 863.3 239.5 C867.3 245.1 870.2 251.1 872.3 257.8 C874.3 264.5 874.9 276 875.5 279.6"/>
<path class="r2" d="M834.8 215.3 C837.5 216.5 846.1 218.8 851.4 222.6 C856.6 226.4 862.2 232.3 866.1 237.9 C870 243.6 873 249.7 875 256.4 C877 263.1 877.4 274.5 877.9 278.1"/>
<path class="r2" d="M837.7 213.8 C840.4 215 849.1 217.4 854.3 221.1 C859.5 224.9 865 230.8 868.9 236.4 C872.8 242.1 875.8 248.3 877.7 255 C879.6 261.7 879.9 273.1 880.3 276.7"/>
<path class="r2" d="M840.6 212.3 C843.3 213.5 852 215.9 857.2 219.6 C862.4 223.4 867.8 229.3 871.7 234.9 C875.6 240.6 878.6 246.9 880.5 253.6 C882.3 260.3 882.4 271.6 882.8 275.2"/>
<path class="r2" d="M843.5 210.8 C846.2 212 854.9 214.4 860.1 218.2 C865.2 221.9 870.6 227.7 874.5 233.4 C878.3 239.1 881.4 245.5 883.2 252.2 C885 259 884.9 270.2 885.2 273.8"/>
<path class="r2" d="M846.4 209.3 C849.1 210.5 857.8 212.9 863 216.7 C868.1 220.4 873.4 226.2 877.3 231.9 C881.1 237.6 884.2 244.1 885.9 250.8 C887.6 257.6 887.4 268.7 887.7 272.3"/>
<path class="r2" d="M849.3 207.7 C852 209 860.7 211.4 865.9 215.2 C871 219 876.3 224.7 880 230.4 C883.8 236.1 887 242.7 888.6 249.4 C890.3 256.2 889.9 267.3 890.1 270.9"/>
<path class="r2" d="M852.2 206.2 C854.9 207.5 863.7 209.9 868.8 213.7 C873.9 217.5 879.1 223.2 882.8 228.9 C886.6 234.6 889.8 241.3 891.4 248 C893 254.8 892.3 265.9 892.5 269.4"/>
<path class="r2" d="M855.1 204.7 C857.8 206 866.6 208.4 871.7 212.2 C876.8 216 881.9 221.6 885.6 227.4 C889.4 233.1 892.5 239.9 894.1 246.7 C895.7 253.4 894.8 264.4 895 268"/>
<path class="r2" d="M858 203.2 C860.7 204.5 869.5 206.9 874.6 210.7 C879.7 214.5 884.7 220.1 888.4 225.9 C892.1 231.6 895.3 238.5 896.8 245.3 C898.3 252 897.3 263 897.4 266.5"/>
<path class="r2" d="M860.9 201.7 C863.7 203 872.4 205.5 877.5 209.2 C882.5 213 887.5 218.6 891.2 224.4 C894.9 230.1 898.1 237.1 899.6 243.9 C901 250.7 899.8 261.5 899.8 265.1"/>
<path class="r3" d="M863.8 200.2 C866.6 201.5 875.4 204 880.4 207.7 C885.4 211.5 890.3 217.1 894 222.8 C897.6 228.6 900.9 235.7 902.3 242.5 C903.7 249.3 902.3 260.1 902.3 263.6"/>
<path class="b" d="M826 219.8 L863.8 200.2 L869.8 203.5 L838.1 219.8 Z"/>
<path class="r4" d="M865.3 201 C868.1 202.2 876.9 204.7 881.9 208.5 C886.9 212.3 891.9 217.9 895.5 223.6 C899.1 229.3 902 235.9 903.3 242.5 C904.7 249 903.3 259.5 903.3 262.9"/>
<path class="r3" d="M826 219.8 L863.8 200.2"/>
<path class="r3" d="M870.6 282.5 L902.3 263.6"/>
<path class="l" d="M865.3 197.2 C868.3 197.7 877.4 197.9 883.4 200.2 C889.5 202.5 896.5 205.7 901.5 210.8 C906.6 215.8 910.8 223.1 913.6 230.4 C916.4 237.7 917.9 248.9 918.4 254.6 C918.9 260.2 916.9 262.7 916.6 264.4"/>
<path class="l" d="M869.8 194.9 C872.8 195.3 881.7 195 887.9 197.2 C894.2 199.3 902 202.2 907.6 207.7 C913.1 213.3 918.3 222.6 921.2 230.4 C924 238.2 923.9 250.5 924.5 254.6"/>
<path class="t" d="M879.6 190.4 C881.8 190.8 887.3 190.3 892.5 192.6 C897.6 195 905.3 198.9 910.6 204.7 C915.9 210.5 921.3 220.1 924.2 227.4 C927.1 234.7 927.3 245 928 248.5"/>
<path class="l" d="M865.3 197.2 L869.8 194.9 L879.6 185.9"/>
<path class="k" d="M879.6 185.9 C881.5 185.2 887.6 183 891 182.1 C894.4 181.1 897 180.3 900 180.3 C903 180.3 905.3 180.5 909.1 182.1 C912.9 183.6 918.6 186.1 922.7 189.6 C926.7 193.2 930.6 198.4 933.2 203.2 C935.9 208 937.7 213.3 938.5 218.3 C939.3 223.3 939.2 229.6 938.1 233.4 C937 237.2 934.3 238.4 932 241 C929.8 243.5 925.7 247.3 924.5 248.5"/>
<path class="l" d="M916.6 188.1 C918.6 190.4 925.7 196.4 928.7 201.7 C931.7 207 933.6 214.4 934.8 219.8 C935.9 225.2 935.4 231.8 935.5 234.2"/>
<path class="k" d="M892.5 191.1 L903.3 187.8"/>
<path class="k" d="M902.3 199.4 L913.9 196"/>
<path class="k" d="M913.6 213.8 L921.5 209"/>
<path class="k" d="M919.7 228.1 L927.5 222.5"/>
<path class="k" d="M923 241 L936.3 231.9"/>
<path class="k" d="M924.5 248.5 L931 245.2"/>
<path class="k" d="M852.5 193.9 C854.6 193.1 862.4 191 865.3 189.3 C868.2 187.6 868.2 185.1 869.8 183.6 C871.5 182.1 873.3 180.7 875.1 180.3 C876.9 179.8 878.8 180.1 880.4 180.9 C882 181.7 882.8 184.3 884.9 185.1 C887.1 185.9 891.8 185.7 893.2 185.9"/>
<path class="l" d="M865.3 192.6 C866.1 191.6 868.2 188.2 869.8 186.6 C871.5 185 873.5 183.7 875.1 183.3 C876.7 182.9 878.9 184.2 879.6 184.3"/>
<path class="b" d="M852.5 193.9 L863.5 189.6 L864.1 194.2 Z"/>
<path class="l" d="M863.8 194.2 L863 199.4"/>
<path class="b" d="M899.3 276.4 L904.6 268.1 L909.1 264.4 L912.4 266.6 L907.3 271.5 L902.7 276 Z"/>
<path class="k" d="M910.6 263.6 C911.9 263.1 915.9 261.4 918.1 260.6 C920.4 259.8 922.9 258.5 924.2 258.8 C925.5 259 927.3 260.5 926 262.1 C924.7 263.7 919.5 266.9 916.6 268.1 C913.8 269.4 910.3 269.4 909.1 269.7"/>
<path class="l" d="M813.2 222.5 L826 219.8"/>
<path class="l" d="M847.2 290 L870.6 282.5"/>
<path class="k" d="M852.5 274.2 L855 266.6 L859.6 264.8 L865.3 268.9 L864.5 275.7 L856.2 284 L853.5 281.7 Z"/>
<path class="k" d="M854 275.7 L863.8 270.9"/>
<path class="k" d="M855 279 L864.1 274.2"/>
<path class="l" d="M807.7 232.7 C810.1 233.6 817.4 234.7 822.3 238.4 C827.2 242 833.4 248.5 837.2 254.6 C840.9 260.7 843.4 268.8 844.6 274.9 C845.8 280.9 845 287 844.2 291.1 C843.4 295.2 840.6 298.1 839.9 299.5"/>
<path class="l" d="M811.5 241.4 C814.2 242.9 823.4 246.1 827.7 250.5 C832 255 835.5 262.3 837.4 268.1 C839.4 274 839.8 280.7 839.3 285.7 C838.9 290.6 835.5 295.8 834.7 297.8"/>
<path class="t" d="M814.9 240 C817.5 241.5 826.2 244.7 830.4 249.2 C834.6 253.6 838.2 260.7 840.1 266.8 C842.1 272.8 842.4 280.4 842 285.7 C841.6 291 838.5 296.4 837.8 298.5"/>
<path class="l" d="M806.1 243.8 C808.3 245.6 815.8 250.1 819.6 254.6 C823.4 259.1 827.2 265.6 829.1 270.8 C830.9 276 831.3 281.4 830.7 285.7 C830 290 826.2 294.7 825.3 296.5"/>
<path class="k" d="M802.7 249.2 C804.8 250.8 811.9 254.6 815.5 258.6 C819.1 262.7 822.6 268.8 824.3 273.5 C826 278.2 826.2 283.5 825.7 287 C825.2 290.5 822 293.2 821.2 294.5"/>
<path class="l" d="M807.7 232.7 L810.1 228.9 L819.6 224.2"/>
<path class="l" d="M839.9 299.5 L831.8 301.2 L825.3 296.5"/>
<path class="l" d="M821.2 294.5 L816.9 296.5 L813.5 294.9"/>
<path class="k" d="M833.1 283 C834.2 283.2 837.6 284.2 839.9 284.1 C842.1 283.9 845.5 282.6 846.6 282.3"/>
<path class="k" d="M813.5 243.8 C814.3 243.4 817.1 242.4 818.2 241.4 C819.4 240.3 819.9 238.3 820.3 237.7"/>
<path class="l" d="M797.3 226.9 L807.7 219.7 L810.4 222.8 L800 229.2 Z"/>
<path class="l" d="M799.1 226.2 L800.7 228.4"/>
<path class="l" d="M800.9 224.9 L802.6 227"/>
<path class="l" d="M802.8 223.5 L804.5 225.7"/>
<path class="l" d="M804.7 222.2 L806.4 224.3"/>
<path class="l" d="M806.6 220.8 L808.2 223"/>
<path class="l" d="M810.4 222.8 L813.5 227.6 L818.2 225.1"/>
<path class="k" d="M780.7 243.8 L783.1 238.6 L800.7 246.5 L798.6 251.9 Z"/>
<path class="k" d="M781.8 241.8 L799.6 249.5"/>
<path class="l" d="M788.5 241.4 L786.5 247.2"/>
<path class="l" d="M793.9 243.8 L791.9 249.5"/>
<path class="k" d="M783.1 250.5 L795.3 257.3 L800.7 255.9"/>
<ellipse class="l" cx="786.5" cy="252.6" rx="2.4" ry="1.9"/>
<ellipse class="l" cx="792.6" cy="255.3" rx="2.4" ry="1.9"/>
<ellipse class="l" cx="747.7" cy="270.1" rx="9.7" ry="14.6" transform="rotate(-22 747.7 270.1)"/>
<ellipse class="l" cx="749.3" cy="269.5" rx="7.8" ry="12.4" transform="rotate(-22 749.3 269.5)"/>
<ellipse class="k" cx="750.9" cy="268.9" rx="5.7" ry="10.3" transform="rotate(-22 750.9 268.9)"/>
<path class="l" d="M739.2 262 L731.1 260.7 L738.5 256.6 L742.6 255.3"/>
<path class="l" d="M752 284.1 L758.1 284.3 L760.4 280.3"/>
<path class="l" d="M742.6 253.2 C744.1 252.5 748.9 249.6 752 248.5 C755.2 247.4 758.3 246.8 761.5 246.8 C764.6 246.8 767.6 247.4 770.9 248.5 C774.3 249.6 777.7 251.3 781.8 253.2 C785.8 255.2 791.2 259.5 795.3 260.3 C799.3 261 804.3 258 806.1 257.6"/>
<path class="l" d="M756.1 283.6 C758.3 284.7 764.6 287.9 769.6 290 C774.5 292.1 780.6 294.9 785.8 296.5 C791 298.1 796.1 299.7 800.7 299.5 C805.3 299.2 811.4 295.6 813.5 294.9"/>
<path class="t" d="M745.3 254.6 C746.7 253.9 750.9 251.4 754.1 250.5 C757.2 249.7 761.6 249.5 764.2 249.5 C766.8 249.5 768.7 250.4 769.6 250.5"/>
<path class="l" d="M765.5 248.1 C766.7 249.4 770.8 252.8 772.3 255.9 C773.8 259.1 774.8 263.2 774.7 266.8 C774.6 270.4 773.2 274.7 771.6 277.6 C770.1 280.5 766.6 283 765.5 284.1"/>
<path class="l" d="M769.6 249.2 C770.8 250.5 775.4 254.1 777 257.3 C778.6 260.5 779.5 264.3 779.3 268.1 C779.2 271.9 777.6 277 776.1 280.3 C774.6 283.5 771.2 286.5 770.3 287.7"/>
<path class="l" d="M780.4 253 C781.8 254.4 786.7 258.2 788.5 261.4 C790.4 264.5 791.5 268.3 791.5 272.2 C791.5 276 789.9 280.8 788.5 284.3 C787.1 287.8 784 291.6 783.1 293.1"/>
<path class="t" d="M784.5 255.3 C785.8 256.6 790.8 260.1 792.6 263.4 C794.4 266.6 795.3 270.9 795.3 274.9 C795.2 278.8 793.6 283.6 792.3 287 C791 290.5 788.2 294 787.4 295.4"/>
<path class="l" d="M795.3 260.3 C796.5 261.6 800.9 265 802.7 268.1 C804.5 271.2 805.7 275.3 805.8 278.9 C805.9 282.5 804.6 286.6 803.4 289.7 C802.2 292.9 799.4 296.5 798.6 297.8"/>
<path class="l" d="M800.7 259.7 C802 261.4 807 266 808.8 269.5 C810.6 272.9 811.4 276.7 811.5 280.3 C811.5 283.9 810.2 288 809.1 291.1 C807.9 294.1 805.5 297.3 804.7 298.5"/>
<path class="l" d="M765.5 273.5 C767.8 273.3 775.2 271.5 779.1 272.2 C782.9 272.8 784.9 275.3 788.5 277.6 C792.1 279.8 795.5 284.7 800.7 285.7 C805.9 286.7 816.4 284 819.6 283.6"/>
<path class="l" d="M766.2 269.5 C767.5 269.2 771.5 268 773.6 268.1 C775.8 268.2 778.2 269.8 779.1 270.1"/>
<path class="l" d="M764.2 280.3 C766.2 281.2 772.1 284.1 776.4 285.7 C780.6 287.3 784.9 288.8 789.9 289.7 C794.8 290.6 801.1 291.3 806.1 291.1 C811 290.9 817.3 288.8 819.6 288.4"/>
<path class="l" d="M758.8 273.5 C759.9 272.8 763.5 269.9 765.5 269.5 C767.6 269 769.9 269.5 770.9 270.8 C772 272.2 771.5 276.4 771.6 277.6"/>
<path class="l" d="M767.4 248.6 C768.6 250 772.7 253.4 774.2 256.5 C775.7 259.6 776.7 263.7 776.6 267.3 C776.5 270.9 775 275.2 773.5 278.1 C772 281 768.4 283.5 767.4 284.6"/>
<path class="l" d="M782.3 253.5 C783.6 254.9 788.6 258.7 790.4 261.9 C792.3 265.1 793.4 268.9 793.4 272.7 C793.4 276.5 791.8 281.4 790.4 284.9 C789 288.4 785.9 292.2 785 293.6"/>
<path class="l" d="M797.2 260.8 C798.4 262.1 802.8 265.5 804.6 268.6 C806.4 271.8 807.6 275.9 807.7 279.5 C807.8 283.1 806.5 287.1 805.3 290.3 C804.1 293.4 801.3 297 800.5 298.4"/>
<path class="l" d="M758.8 250.5 C760.6 250.8 765.8 250.9 769.6 251.9 C773.4 252.9 777.5 254.6 781.8 256.6 C786 258.6 791.2 263.2 795.3 264.1 C799.3 265 804.3 262.4 806.1 262"/>
<path class="t" d="M760.1 257.3 C761.9 257.6 767.1 258.2 770.9 259.3 C774.8 260.5 779.1 262.1 783.1 264.1 C787.2 266 791.2 269.9 795.3 270.8 C799.3 271.7 805.4 269.7 807.4 269.5"/>
<path class="l" d="M761.5 265.4 C763.3 265.4 768.5 264.6 772.3 265.4 C776.1 266.2 780.2 268.1 784.5 270.1 C788.7 272.2 793.5 276.6 798 277.6 C802.5 278.6 809.2 276.4 811.5 276.2"/>
<path class="l" d="M757.4 283 C759.7 283.8 766.2 286 770.9 287.7 C775.7 289.4 780.9 291.8 785.8 293.1 C790.8 294.5 796.2 295.9 800.7 295.8 C805.2 295.7 810.8 293 812.8 292.4"/>
<path class="l" d="M740.9 256.6 C741.9 256 744.4 254 746.6 253 C748.8 252 752.8 250.9 754.1 250.5"/>
<path class="k" d="M737.8 266.8 C738 268.1 737.5 272.3 738.5 274.9 C739.5 277.5 741.7 280.6 743.9 282.3 C746.2 284 750.7 284.5 752 285"/>
<path class="l" d="M758.8 258.6 C759.3 260 761.9 263.8 762.2 266.8 C762.4 269.7 761.3 273.5 760.4 276.2 C759.5 278.9 757.4 281.8 756.8 283"/>
<path class="l" d="M756.4 256.6 C756.9 258.3 759.2 263.7 759.5 266.8 C759.8 269.8 759 272.3 758.1 274.9 C757.2 277.5 754.7 281.1 754.1 282.3"/>
<path class="b" d="M783.1 238.6 L800.7 246.5 L798.6 251.9 L780.7 243.8 Z"/>
<path class="wl" d="M784.2 240.8 L799.1 247.6"/>
<path class="wl" d="M782.8 243.2 L798 250"/>
<path class="t" d="M818.2 237.7 C820.7 239.4 829.1 243.2 833.1 247.8 C837.2 252.5 840.8 259.5 842.6 265.4 C844.4 271.3 844.3 277.8 843.9 283 C843.6 288.2 841.1 294.2 840.5 296.5"/>
<path class="l" d="M808.8 242.4 C811.1 244.1 818.9 248.1 823 252.6 C827 257.1 831.1 263.9 833.1 269.5 C835.1 275 835.3 280.9 834.7 285.7 C834.2 290.4 830.6 295.8 829.7 297.8"/>
<path class="l" d="M804.5 246.5 C806.6 248.2 813.9 252.3 817.6 256.6 C821.3 260.9 824.8 267.2 826.6 272.2 C828.4 277.1 828.8 282.5 828.2 286.4 C827.7 290.2 824.2 293.9 823.4 295.4"/>
<path class="t" d="M639.4 628.3 C643.2 625.7 656.1 618.6 662.3 612.5 C668.4 606.3 673.1 599.6 676.4 591.3 C679.6 583.1 680.6 575.5 681.6 563.2 C682.7 550.8 681.8 529.7 682.7 517.4 C683.6 505 684.8 498 686.9 489.2 C689.1 480.4 692.2 471.3 695.7 464.5 C699.3 457.8 703.1 455.1 708.1 448.7 C713 442.2 720.1 432.2 725.7 425.8 C731.2 419.3 737.3 413.6 741.5 409.9 C745.7 406.3 747.8 405 751 404 C754.3 403 757.8 402.4 760.9 404 C764 405.5 768.1 409.5 769.7 413.5 C771.3 417.4 771.3 422.3 770.8 427.6 C770.2 432.8 767.5 439.9 766.2 445.2 C764.8 450.4 763.2 456.9 762.7 459.3"/>
<path class="t" d="M657 649.5 C660.5 646.8 671.7 639.8 678.1 633.6 C684.6 627.4 691.6 620.1 695.7 612.5 C699.8 604.8 701 603.1 702.8 587.8 C704.5 572.6 704.8 536.2 706.3 520.9 C707.8 505.6 708.9 503.9 711.6 496.2 C714.2 488.6 719.8 480.7 722.1 475.1 C724.5 469.5 722.4 468.5 725.7 462.8 C728.9 457 736.2 447.9 741.5 440.6 C746.8 433.2 754.7 422.4 757.4 418.7"/>
<path class="t" d="M676.4 623 C678.7 617.8 687.2 608.4 690.4 591.3 C693.7 574.3 693.7 538.5 695.7 520.9 C697.8 503.3 698.4 496.5 702.8 485.7 C707.2 474.8 715.7 465.1 722.1 455.7 C728.6 446.3 735.9 436.4 741.5 429.3 C747.1 422.3 753.3 416.1 755.6 413.5"/>
<path class="t" d="M755.6 413.5 C756.2 415.2 758.8 420.2 759.1 424 C759.4 427.8 759.7 432 757.4 436.4 C755 440.8 747.1 448.1 745 450.4"/>
<path class="l" d="M681.6 515.6 C683.7 516.3 689.9 519.5 694 519.5 C698.1 519.5 704.2 516.3 706.3 515.6"/>
<path class="l" d="M676.4 589.6 C678.7 590.3 686 594.3 690.4 594.2 C694.9 594 700.7 589.5 702.8 588.5"/>
<path class="l" d="M662.3 612.5 C663.9 614.1 669.8 619.1 672.1 622.3 C674.5 625.6 675.7 630.6 676.4 632.2"/>
<path class="l" d="M704.5 450.4 C706.6 450.3 713.3 447.7 716.9 449.7 C720.4 451.8 724.2 460.6 725.7 462.8"/>
<path class="l" d="M741.5 409.9 C743.3 410.4 749.3 410.8 752.1 412.4 C754.8 414 757.1 418.3 758.1 419.5"/>
<path class="l" d="M743.3 447.6 C745 448.1 750.3 450.6 753.8 450.4 C757.4 450.3 762.7 447.5 764.4 446.9"/>
<path class="l" d="M736.2 459.6 C738.5 460.2 745.2 463.2 749.6 463.1 C754 463.1 760.5 459.9 762.7 459.3"/>
<path class="l" d="M732 467.4 C734.6 467.9 742.4 471.2 747.5 470.9 C752.6 470.5 760.1 466.2 762.7 465.2"/>
<path class="l" d="M727.4 468.1 C728 469.4 728.3 473.5 731 475.8 C733.6 478.2 738.6 481.8 743.3 482.1 C748 482.5 755.7 479.6 759.1 477.9 C762.5 476.3 763.1 475.4 763.7 472.3 C764.3 469.2 762.8 461.4 762.7 459.3"/>
<path class="t" d="M725.7 462.8 L727.4 468.1"/>
<ellipse class="l" cx="648.2" cy="638.9" rx="12.3" ry="7.4" transform="rotate(50 648.2 638.9)"/>
<ellipse class="l" cx="648.2" cy="639.6" rx="9.9" ry="5.3" transform="rotate(50 648.2 639.6)"/>
<ellipse class="l" cx="734.5" cy="494.5" rx="12.3" ry="4.6" transform="rotate(5 734.5 494.5)"/>
<ellipse class="l" cx="735.2" cy="495.2" rx="10.2" ry="3.2" transform="rotate(5 735.2 495.2)"/>
<path class="l" d="M733.4 499.4 L753.1 504.3 L755.3 508.2 L736.2 503.6 Z"/>
<path class="l" d="M740.5 501.2 L742.2 505"/>
<path class="l" d="M747.5 502.9 L748.9 506.8"/>
<ellipse class="l" cx="263.3" cy="649.3" rx="12.4" ry="6.4"/>
<ellipse class="l" cx="263.3" cy="649.8" rx="10.3" ry="4.6"/>
<path class="l" d="M250.9 650.6 L250.9 689.2"/>
<path class="l" d="M275.7 650.6 L275.7 689.2"/>
<path class="t" d="M273.1 653.1 L273.1 690"/>
<path class="l" d="M250.9 689.2 C252 689.7 255.3 691.4 257.4 692.1 C259.4 692.7 261.2 693.1 263.3 693.1 C265.4 693.1 268.2 692.7 270.3 692.1 C272.3 691.4 274.8 689.7 275.7 689.2"/>
<path class="l" d="M252 693.1 C253 693.5 256.2 695.1 258.1 695.7 C260.1 696.2 261.8 696.5 263.8 696.4 C265.8 696.4 268.4 696.1 270.3 695.4 C272.1 694.8 274.3 693 275.2 692.6"/>
<path class="t" d="M250.9 689.2 L252 693.1"/>
<path class="t" d="M275.7 689.2 L275.2 692.6"/>
<path class="t" d="M252 693.1 C252.6 698.2 254.6 713.7 256.1 724 C257.5 734.3 259.6 748.1 260.7 754.9 C261.8 761.8 261.4 762 262.5 765.3 C263.7 768.5 265.3 771.7 267.7 774.3 C270 776.9 273.4 779.3 276.7 780.7 C280 782.1 285.7 782.4 287.5 782.8"/>
<path class="t" d="M275.2 692.6 C275.8 697.8 277.5 714.1 278.8 724 C280.1 734 281.9 746.6 282.9 752.4 C283.8 758.2 283.6 757.6 284.4 758.8 C285.3 760 287.4 759.5 288 759.6"/>
<path class="t" d="M272.1 695.7 C272.7 700.4 274.9 714.6 276.2 724 C277.5 733.5 278.6 745.5 279.8 752.4 C281 759.2 282.6 763.1 283.1 765.3"/>
<path class="t" d="M288 759.6 C290.4 759.5 296.6 759.3 302.5 759.1 C308.3 758.9 316.9 758.6 323.1 758.3 C329.3 758 337.1 757.7 339.8 757.5"/>
<path class="t" d="M287.5 782.8 C290.9 782.8 301.3 783 307.6 782.8 C314 782.6 320.1 782.7 325.7 781.8 C331.3 780.9 338.6 778.1 341.1 777.4"/>
<path class="l" d="M339.8 757.5 C340.6 758.2 343.2 759.7 344.2 761.4 C345.2 763.1 345.8 765.8 345.8 767.8 C345.8 769.9 345 771.9 344.2 773.5 C343.5 775.1 341.6 776.7 341.1 777.4"/>
<path class="l" d="M315.4 758.8 C316 759.9 318.3 762.7 319 765.3 C319.7 767.8 319.7 771.4 319.5 774.3 C319.2 777.1 317.8 780.9 317.4 782.3"/>
<path class="l" d="M324.4 758 C324.9 759.2 327.1 762.7 327.7 765.3 C328.4 767.8 328.6 770.8 328.2 773.5 C327.9 776.2 326.1 780.2 325.7 781.5"/>
<path class="t" d="M260.7 757 C262.5 757.5 267.8 760.4 271.5 760.1 C275.3 759.8 281.2 756.2 283.1 755.5"/>
<path class="t" d="M285.7 760.1 C286.9 761.4 291.4 765.3 292.7 767.8 C294 770.4 293.9 773.1 293.5 775.6 C293 778.1 290.7 781.6 290.1 782.8"/>
<path class="t" d="M294.7 774.3 L317.9 773.5"/>
</g>
<g id="labels" style="opacity:0.999">
<text class="cp" x="208.6" y="104" textLength="13.2" lengthAdjust="spacingAndGlyphs" style="font-size:17px">©</text><text class="cp" x="227.8" y="104.2" textLength="161.3" lengthAdjust="spacingAndGlyphs">2004 Polaris Sales Inc.</text>
<text class="lb" transform="translate(99.4,103.3) scale(0.84,1)" text-anchor="middle">1</text>
<path class="l" d="M64.9 111.6 L89.8 99.7"/>
<text class="lb" transform="translate(146,202.3) scale(0.84,1)" text-anchor="middle">2</text>
<path class="l" d="M103.1 211.7 L128.8 200.9"/>
<text class="lb" transform="translate(125.6,274.6) scale(0.84,1)" text-anchor="middle">3</text>
<path class="l" d="M89.1 284 L114.9 272.5"/>
<text class="lb" transform="translate(126.2,343.7) scale(0.84,1)" text-anchor="middle">4</text>
<path class="l" d="M90 352.5 L114.9 340.8"/>
<text class="lb" transform="translate(197,395.3) scale(0.84,1)" text-anchor="middle">3</text>
<path class="l" d="M195.4 397.4 L192.8 428"/>
<text class="lb" transform="translate(306.2,346.1) scale(0.84,1)" text-anchor="middle">5</text>
<path class="l" d="M312.6 349.1 L328.6 384.6"/>
<text class="lb" transform="translate(393,279.9) scale(0.84,1)" text-anchor="middle">3</text>
<path class="l" d="M396.4 283.3 L413.8 318.6"/>
<text class="lb" transform="translate(493.6,148.2) scale(0.84,1)" text-anchor="middle">6</text>
<path class="l" d="M498.9 147.5 L527.5 169"/>
<text class="lb" transform="translate(710.2,38.9) scale(0.84,1)" text-anchor="middle">3</text>
<path class="l" d="M707.3 42.7 L702.2 78.4"/>
<text class="lb" transform="translate(801.3,40.7) scale(0.84,1)" text-anchor="middle">7</text>
<path class="l" d="M808.2 38.2 L835.4 47.3"/>
<text class="lb" transform="translate(788.1,71.3) scale(0.84,1)" text-anchor="middle">8</text>
<path class="l" d="M798 66.5 L838 79"/>
<text class="lb" transform="translate(761.9,81.1) scale(0.84,1)" text-anchor="middle">9</text>
<path class="l" d="M771 76 L796 84"/>
<text class="lb" transform="translate(753,125.9) scale(0.84,1)" text-anchor="middle">10</text>
<path class="l" d="M767.7 124.5 L794.2 132.1"/>
<text class="lb" transform="translate(810.3,191) scale(0.84,1)" text-anchor="middle">11</text>
<path class="l" d="M817 195 L832 216"/>
<text class="lb" transform="translate(694,402.2) scale(0.84,1)" text-anchor="middle">12</text>
<path class="l" d="M706.3 406.4 L723.2 427.5"/>
<text class="lb" transform="translate(666.8,436.7) scale(0.84,1)" text-anchor="middle">13</text>
<path class="l" d="M679.9 439.9 L727.4 492.7"/>
<text class="lb" transform="translate(104.8,544.7) scale(0.84,1)" text-anchor="middle">1</text>
<path class="l" d="M114.2 541.3 L145.1 547.9"/>
<text class="lb" transform="translate(328.8,537) scale(0.84,1)" text-anchor="middle">2</text>
<path class="l" d="M283.6 548.3 L309.3 536.1"/>
<text class="lb" transform="translate(314.1,610.5) scale(0.84,1)" text-anchor="middle">3</text>
<path class="l" d="M275.4 617.8 L303 606.8"/>
<text class="lb" transform="translate(312.8,663.8) scale(0.84,1)" text-anchor="middle">14</text>
<path class="l" d="M275.7 672.5 L302 660.9"/>
<text class="lb" transform="translate(382.9,711) scale(0.84,1)" text-anchor="middle">3</text>
<path class="l" d="M381.9 713.2 L377.2 748.5"/>
<text class="lb" transform="translate(500.1,670.5) scale(0.84,1)" text-anchor="middle">5</text>
<path class="l" d="M507 673 L522 708"/>
<text class="lb" transform="translate(591.1,622.1) scale(0.84,1)" text-anchor="middle">3</text>
<path class="l" d="M597.9 626.2 L614 647.2"/>
</g>
</svg>
</body></html>
